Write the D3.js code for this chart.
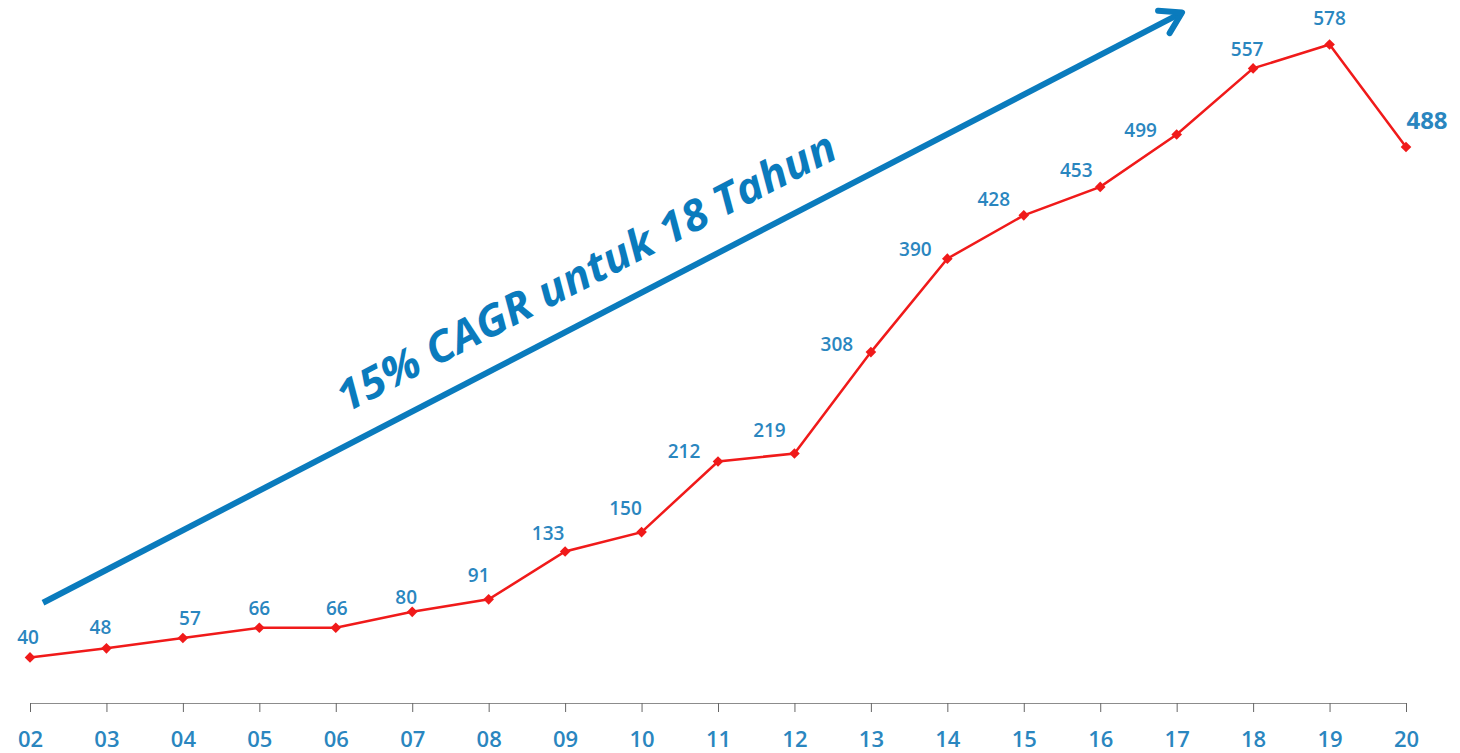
<!DOCTYPE html>
<html>
<head>
<meta charset="utf-8">
<script src="https://cdn.jsdelivr.net/npm/d3@7"></script>
<style>
  body { margin: 0; background: #fff; }
  svg { display: block; font-family: "Open Sans", sans-serif; }
</style>
</head>
<body>
<svg id="chart" width="1460" height="753"></svg>
<script>
"use strict";

var years = ['02', '03', '04', '05', '06', '07', '08', '09', '10', '11',
             '12', '13', '14', '15', '16', '17', '18', '19', '20'];
var values = [40, 48, 57, 66, 66, 80, 91, 133, 150, 212,
              219, 308, 390, 428, 453, 499, 557, 578, 488];
// label nudges (px) from each point
var labelDx = [-2, -6, 7, 0, 1, -6, -10, -17, -16, -34, -25, -34, -32, -30, -24, -36, -6, 0, 21];
var labelDy = [-20, -21, -20, -19, -19, -15, -24, -18, -24, -10, -23, -8, -9, -16, -17, -4, -19, -26, -26];
var cagrText = '15% CAGR untuk 18 Tahun';

var blue = '#0a7bbd';
var labelBlue = '#2a86bf';

function make_chart() {
  var svg = d3.select('#chart');

  var _x = d3.scalePoint().domain(years).range([30, 1406]);
  var _y = d3.scaleLinear().domain([0, 600]).range([703, 19.4]);

  // axis
  var xaxis = d3.axisBottom(_x).tickSize(9).tickSizeOuter(0);
  var ax = svg.append('g')
    .attr('transform', 'translate(0,' + _y(0) + ')')
    .call(xaxis);
  ax.select('.domain').attr('stroke', '#8c8c8c').attr('stroke-width', 1);
  ax.selectAll('.tick line').attr('stroke', '#666');
  ax.selectAll('.tick text')
    .attr('y', 36)
    .attr('dy', '0.35em')
    .attr('fill', labelBlue)
    .attr('font-size', 22)
    .attr('font-weight', 600)
    .attr('font-family', '"Open Sans", sans-serif');

  // growth arrow
  var idx = function (i) { return _x(years[0]) + i * _x.step(); };
  var a0 = [idx(0.17), _y(88)];
  var a1 = [idx(15.07), _y(606)];
  var ang = Math.atan2(a1[1] - a0[1], a1[0] - a0[0]);
  svg.append('line')
    .attr('x1', a0[0]).attr('y1', a0[1])
    .attr('x2', a1[0]).attr('y2', a1[1])
    .attr('stroke', blue).attr('stroke-width', 6);
  var hl = 24, ha = 0.55;
  var head = [
    [a1[0] - hl * Math.cos(ang - ha), a1[1] - hl * Math.sin(ang - ha)],
    a1,
    [a1[0] - hl * Math.cos(ang + ha), a1[1] - hl * Math.sin(ang + ha)]
  ];
  svg.append('path')
    .attr('d', d3.line()(head))
    .attr('fill', 'none')
    .attr('stroke', blue).attr('stroke-width', 6)
    .attr('stroke-linecap', 'round').attr('stroke-linejoin', 'round');

  svg.append('text')
    .attr('transform', 'translate(593,285) rotate(' + (ang * 180 / Math.PI) + ')')
    .attr('text-anchor', 'middle')
    .attr('fill', blue)
    .attr('font-size', 43)
    .attr('font-weight', 'bold')
    .attr('font-style', 'italic')
    .attr('textLength', 556)
    .attr('lengthAdjust', 'spacingAndGlyphs')
    .text(cagrText);

  // line series
  var valueline = d3.line()
    .x(function (d, i) { return _x(years[i]); })
    .y(function (d) { return _y(d); });
  svg.append('path')
    .datum(values)
    .attr('d', valueline)
    .attr('fill', 'none')
    .attr('stroke', '#f01a1a')
    .attr('stroke-width', 2.5);

  svg.selectAll('.pt')
    .data(values)
    .enter().append('path')
    .attr('class', 'pt')
    .attr('d', d3.symbol().type(d3.symbolDiamond2).size(72))
    .attr('transform', function (d, i) {
      return 'translate(' + _x(years[i]) + ',' + _y(d) + ')';
    })
    .attr('fill', '#f01a1a');

  svg.selectAll('.lbl')
    .data(values)
    .enter().append('text')
    .attr('class', 'lbl')
    .attr('x', function (d, i) { return _x(years[i]) + labelDx[i]; })
    .attr('y', function (d, i) { return _y(d) + labelDy[i]; })
    .attr('dy', '0.35em')
    .attr('text-anchor', 'middle')
    .attr('fill', labelBlue)
    .attr('font-size', function (d, i) { return i === values.length - 1 ? 24 : 19; })
    .attr('font-weight', function (d, i) { return i === values.length - 1 ? 700 : 600; })
    .text(function (d) { return d; });
}

make_chart();
</script>
</body>
</html>
